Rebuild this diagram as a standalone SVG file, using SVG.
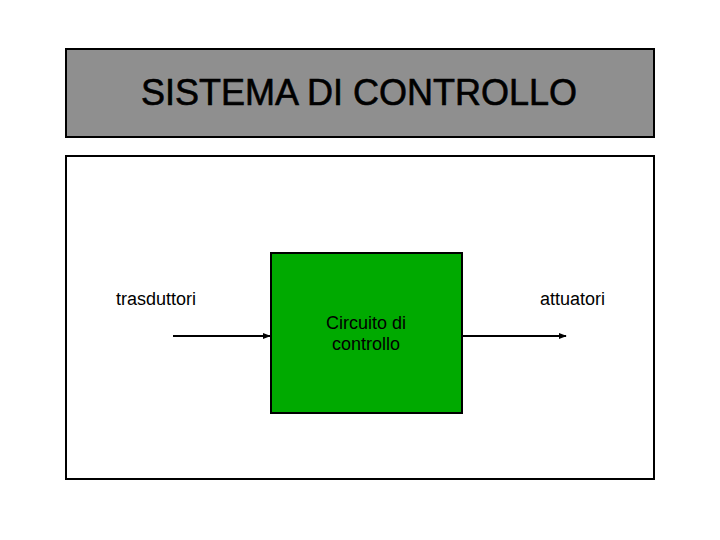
<svg xmlns="http://www.w3.org/2000/svg" width="720" height="540" viewBox="0 0 720 540">
<style>
.box{stroke:#000;stroke-width:2}
.lbl{font-family:"Liberation Sans",Arial,sans-serif;font-size:18px;fill:#000}
.conn{stroke:#000;stroke-width:2;fill:none}
</style>
<defs>
<marker id="arr" viewBox="0 0 10 10" refX="9" refY="5" markerWidth="4" markerHeight="4" orient="auto" markerUnits="strokeWidth">
<path d="M0,1 L10,5 L0,9 z" fill="#000"/>
</marker>
</defs>
<rect width="720" height="540" fill="#fff"/>
<g id="title">
<rect class="box" x="66" y="49" width="588" height="88" fill="#8f8f8f"/>
<text x="359" y="105" text-anchor="middle" font-family="Liberation Sans,Arial,sans-serif" font-size="36" fill="#000" stroke="#000" stroke-width="0.6">SISTEMA DI CONTROLLO</text>
</g>
<g id="sistema">
<rect class="box" x="66" y="156" width="588" height="323" fill="#fff"/>
</g>
<g id="circuito">
<rect class="box" x="271" y="253" width="191" height="160" fill="#00aa00"/>
<text class="lbl" x="366" y="329" text-anchor="middle">Circuito di</text>
<text class="lbl" x="366" y="350" text-anchor="middle">controllo</text>
</g>
<g id="trasduttori">
<text class="lbl" x="116" y="305">trasduttori</text>
</g>
<g id="attuatori">
<text class="lbl" x="605" y="305" text-anchor="end">attuatori</text>
</g>
<g id="connectors">
<line class="conn" x1="173" y1="336" x2="270" y2="336" marker-end="url(#arr)"/>
<line class="conn" x1="463" y1="336" x2="566" y2="336" marker-end="url(#arr)"/>
</g>
</svg>
